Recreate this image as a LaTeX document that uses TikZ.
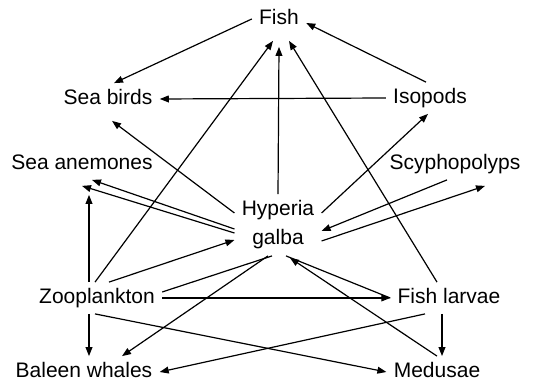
\documentclass[tikz,border=0pt]{standalone}
\usepackage{fontspec}
\setmainfont{Liberation Sans}
\usetikzlibrary{arrows.meta}

\begin{document}
\begin{tikzpicture}[
    x=0.5pt, y=-0.5pt,
    taxon/.style={inner sep=3.5pt, text height=7pt, text depth=1.5pt, font=\fontsize{10.5}{14.5}\selectfont, align=center},
    arrow/.style={-{Triangle[length=4.5pt, width=3.4pt]}, line width=0.6pt},
    link/.style={line width=0.6pt}
]
\useasboundingbox (0,0) rectangle (545,384);

\node[taxon] (fish) at (279,19) {Fish};
\node[taxon] (sbirds) at (108,99) {Sea birds};
\node[taxon] (isop) at (430,98) {Isopods};
\node[taxon] (sanem) at (82,164) {Sea anemones};
\node[taxon] (scy) at (455,164) {Scyphopolyps};
\node[taxon, text height=21.5pt, text depth=2pt] (hyp) at (278,225) {Hyperia\\galba};
\node[taxon] (zoo) at (97,298) {Zooplankton};
\node[taxon] (flarv) at (449,298) {Fish larvae};
\node[taxon] (baleen) at (84,372) {Baleen whales};
\node[taxon] (med) at (437,372) {Medusae};

% who feeds on whom
\draw[arrow] (fish.west) -- ([xshift=3pt]sbirds.north);
\draw[arrow] ([xshift=-2pt]isop.north) -- ([yshift=-2pt]fish.east);
\draw[arrow] ([xshift=-1pt]zoo.north) -- ([xshift=-3pt,yshift=-3pt]fish.south);
\draw[arrow] (hyp.north) -- ([yshift=-6pt]fish.south);
\draw[arrow] ([xshift=-6pt]flarv.north) -- ([xshift=5pt,yshift=-3pt]fish.south);
\draw[arrow] ([yshift=6pt]hyp.west) -- ([xshift=2pt,yshift=-3pt]sbirds.south);
\draw[arrow] ([yshift=-2pt]hyp.west) -- ([xshift=5pt]sanem.south);
\draw[arrow] ([yshift=-4pt]hyp.west) -- ([yshift=-3pt]sanem.south);
\draw[arrow] ([xshift=-4pt]zoo.north) -- ([xshift=3.5pt,yshift=-7.5pt]sanem.south);
\draw[arrow] ([xshift=6pt]zoo.north) -- ([yshift=-7.5pt]hyp.west);
\draw[arrow] ([yshift=6pt]hyp.east) -- ([xshift=-1pt]isop.south);
\draw[arrow] ([xshift=-4pt]scy.south) -- ([yshift=-3pt]hyp.east);
\draw[arrow] ([yshift=-8pt]hyp.east) -- ([xshift=15pt,yshift=-3pt]scy.south);
\draw[arrow] ([xshift=-5pt]hyp.south) -- ([xshift=19pt]baleen.north);
\draw[link] ([xshift=4pt]hyp.south) -- (flarv.west);
\draw[link] ([yshift=3pt]zoo.east) -- ([xshift=-3pt]hyp.south);
\draw[arrow] (med.north) -- ([xshift=6pt,yshift=-1pt]hyp.south);
\draw[arrow] ([xshift=-4pt]zoo.south) -- ([xshift=2.5pt]baleen.north);
\draw[arrow] ([xshift=-1pt]zoo.south) -- (med.west);
\draw[arrow] ([xshift=-12pt]flarv.south) -- (baleen.east);
\draw[arrow] ([xshift=-3.5pt]flarv.south) -- ([xshift=2.5pt]med.north);

\foreach \a/\b in {isop.west/sbirds.east, zoo.east/flarv.west}
    \draw[arrow] (\a) -- (\b);

\end{tikzpicture}
\end{document}
